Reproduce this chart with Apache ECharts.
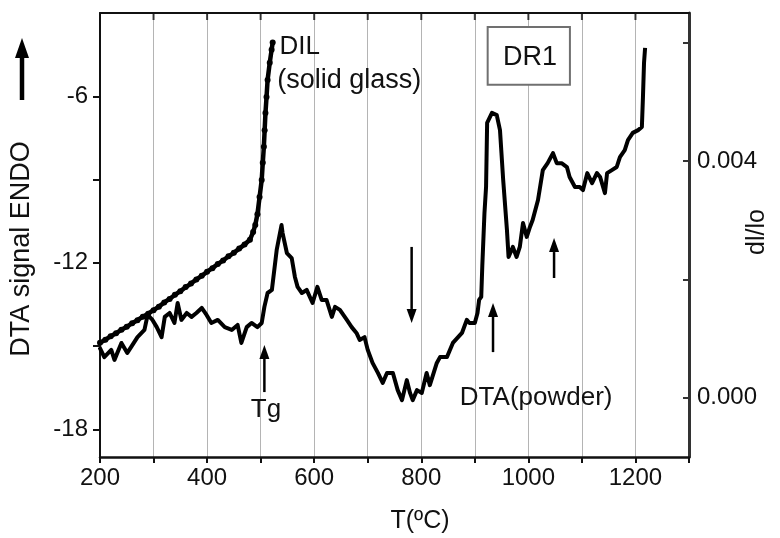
<!DOCTYPE html>
<html><head><meta charset="utf-8">
<script src="https://cdn.jsdelivr.net/npm/echarts@6/dist/echarts.min.js"></script>
<style>html,body{margin:0;padding:0;background:#fff}#c{width:780px;height:538px}</style>
</head><body><div id="c"></div>
<script>
// DTA signal (left axis), T in °C
const dtaT = [199,208,221,227,240,251,258,270,283,289,298,306,315,321,330,339,345,352,362,371,380,390,399,408,420,433,446,457,464,474,483,494,502,507,513,521,530,539,541,549,558,564,569,577,586,597,606,614,623,633,639,648,661,670,679,685,694,700,709,719,728,736,747,756,764,773,779,784,792,801,810,816,829,835,848,859,876,885,890,900,905,908,912,914,918,921,923,932,941,947,953,960,963,971,978,984,990,997,1003,1008,1018,1027,1036,1046,1053,1062,1072,1077,1087,1096,1102,1110,1119,1128,1134,1143,1147,1156,1165,1171,1180,1186,1195,1205,1212,1214,1216,1218];
const dtaV = [-15.04,-15.40,-15.14,-15.50,-14.89,-15.25,-15.04,-14.68,-14.42,-13.88,-14.06,-14.32,-14.68,-13.95,-13.81,-14.17,-13.45,-14.06,-13.81,-13.95,-13.81,-13.63,-13.88,-14.17,-14.06,-14.32,-14.42,-14.24,-14.89,-14.32,-14.17,-14.32,-14.17,-13.59,-13.09,-12.98,-11.54,-10.64,-10.93,-11.65,-11.83,-12.51,-12.87,-13.09,-12.98,-13.45,-12.87,-13.34,-13.34,-13.95,-13.59,-13.70,-14.06,-14.32,-14.53,-14.78,-14.68,-15.14,-15.61,-15.97,-16.33,-15.97,-15.97,-16.59,-16.95,-16.23,-16.69,-16.95,-16.59,-16.69,-15.97,-16.41,-15.61,-15.40,-15.40,-14.89,-14.53,-14.06,-14.17,-14.17,-13.81,-13.34,-13.23,-12.10,-10.21,-9.27,-6.96,-6.60,-6.68,-7.22,-9.02,-10.82,-11.79,-11.43,-11.79,-11.43,-10.57,-11.07,-10.71,-10.46,-9.74,-8.66,-8.41,-8.05,-8.41,-8.41,-8.55,-8.91,-9.27,-9.27,-9.38,-8.77,-9.13,-8.77,-8.91,-9.49,-8.77,-8.66,-8.55,-8.19,-7.94,-7.58,-7.32,-7.22,-7.11,-6.03,-4.80,-4.26];
// Dilatometry dl/lo (right axis)
const dilT = [200,210,220,230,240,250,260,270,280,290,300,310,320,330,340,350,360,370,380,390,400,410,420,430,440,450,460,470,480,486,490,494,498,502,504,506,507.5,509,511,513,517,520.5,522.5];
const dilV = [0.00093,0.00098,0.00104,0.00109,0.00115,0.00120,0.00126,0.00131,0.00137,0.00142,0.00148,0.00154,0.00161,0.00167,0.00174,0.00180,0.00187,0.00193,0.00200,0.00206,0.00213,0.00219,0.00226,0.00232,0.00239,0.00245,0.00252,0.00259,0.00267,0.00280,0.00292,0.00310,0.00339,0.00368,0.00397,0.00424,0.00452,0.00481,0.00508,0.00537,0.00566,0.00588,0.00600];
// tick labels / tick positions
const xTickLabels = [200,400,600,800,1000,1200];
const xTopTicks = [300,400,500,600,700,800,900,1000,1100,1200];
const yLeftLabels = [-18,-12,-6];
const yLeftTicks = [-18,-15,-12,-9,-6];
const yRightLabels = [0,0.004];
const yRightTicks = [0,0.002,0.004,0.006];
const yTop = -3;
// annotations (data coordinates on T / DTA axes)
const arrowsT = [507,782,934,1048];
const arrowsFrom = [-16.66,-11.43,-15.22,-12.55];
const arrowsTo = [-14.96,-14.17,-13.45,-11.11];

const FONT = 'Liberation Sans, Arial, sans-serif';
const TXT = '#111';
const chart = echarts.init(document.getElementById('c'), null, {renderer:'canvas'});
const zip = (a,b)=>a.map((v,i)=>[v,b[i]]);
chart.setOption({
  animation:false,
  backgroundColor:'#fff',
  grid:{left:100,right:91,top:13,bottom:81,containLabel:false},
  xAxis:[
    {type:'value',min:200,max:1300,interval:100,position:'bottom',
     axisLine:{show:true,onZero:false,lineStyle:{color:'#111',width:2.5}},
     axisTick:{show:true,inside:false,length:6,lineStyle:{color:'#111',width:2}},
     axisLabel:{fontFamily:FONT,fontSize:24,color:TXT,margin:9,
       formatter:v=>xTickLabels.indexOf(v)>=0?String(v):''},
     splitLine:{show:true,lineStyle:{color:'#b4b4b4',width:1}}},
    {type:'value',min:200,max:1300,interval:100,position:'top',
     axisLine:{show:true,onZero:false,lineStyle:{color:'#111',width:2}},
     axisTick:{show:false},axisLabel:{show:false},splitLine:{show:false}}
  ],
  yAxis:[
    {type:'value',min:-19,max:yTop,position:'left',
     axisLine:{show:true,onZero:false,lineStyle:{color:'#111',width:2}},
     axisTick:{show:true,inside:false,length:7,customValues:yLeftTicks,lineStyle:{color:'#111',width:2}},
     axisLabel:{fontFamily:FONT,fontSize:24,color:TXT,margin:12,customValues:yLeftLabels,formatter:v=>String(v)},
     splitLine:{show:false}},
    {type:'value',min:-0.001,max:0.0065,position:'right',
     axisLine:{show:true,onZero:false,lineStyle:{color:'#333',width:3}},
     axisTick:{show:true,inside:true,length:6,customValues:yRightTicks,lineStyle:{color:'#333',width:2}},
     axisLabel:{fontFamily:FONT,fontSize:24,color:TXT,margin:8,customValues:yRightLabels,formatter:v=>v.toFixed(3)},
     splitLine:{show:false}}
  ],
  series:[
    {type:'line',name:'DTA(powder)',xAxisIndex:0,yAxisIndex:0,data:zip(dtaT,dtaV),
     showSymbol:false,symbol:'none',lineStyle:{color:'#000',width:4,join:'round'},z:3},
    {type:'line',name:'DIL',xAxisIndex:0,yAxisIndex:1,data:zip(dilT,dilV),
     symbol:'circle',symbolSize:6,itemStyle:{color:'#000'},lineStyle:{color:'#000',width:4.5},z:4},
    {type:'scatter',name:'topTicks',xAxisIndex:0,yAxisIndex:0,data:xTopTicks.map(t=>[t,yTop]),
     symbol:'rect',symbolSize:[2,7],symbolOffset:[0,3.5],itemStyle:{color:'#111'},silent:true,clip:false,z:5}
  ]
});

function px(t,v){return chart.convertToPixel({xAxisIndex:0,yAxisIndex:0},[t,v]);}
function arrow(x,y1,y2,w,hl,hw){
  const dir = y2<y1?-1:1;
  const yb = y2 - dir*hl;
  return [
    {type:'line',shape:{x1:x,y1:y1,x2:x,y2:yb},style:{stroke:'#000',lineWidth:w},z:10},
    {type:'polygon',shape:{points:[[x-hw,yb],[x+hw,yb],[x,y2]]},style:{fill:'#000'},z:10}
  ];
}
const g = [];
for(let i=0;i<arrowsT.length;i++){
  const a=px(arrowsT[i],arrowsFrom[i]), b=px(arrowsT[i],arrowsTo[i]);
  g.push(...arrow(a[0],a[1],b[1],2.5,14,5));
}
g.push(...arrow(22,100,38,4.5,20,7));
function txt(s,t,v,size,align){
  const p=px(t,v);
  return {type:'text',x:p[0],y:p[1],style:{text:s,fontFamily:FONT,fontSize:size,fill:TXT,align:align||'left',verticalAlign:'middle'},z:11};
}
g.push(txt('DIL',535,-4.23,26));
g.push(txt('(solid glass)',531,-5.45,27));
g.push(txt('Tg',510,-17.31,26,'center'));
g.push(txt('DTA(powder)',872,-16.87,26));
const b1=px(924,-3.5), b2=px(1077.6,-5.59);
g.push({type:'rect',shape:{x:b1[0],y:b1[1],width:b2[0]-b1[0],height:b2[1]-b1[1]},style:{fill:'#fff',stroke:'#707070',lineWidth:2},z:9});
g.push(txt('DR1',1003,-4.59,27,'center'));
g.push({type:'text',x:22,y:249,rotation:Math.PI/2,style:{text:'DTA signal ENDO',fontFamily:FONT,fontSize:27,fill:TXT,align:'center',verticalAlign:'middle'},z:11});
g.push({type:'text',x:757,y:232,rotation:Math.PI/2,style:{text:'dl/lo',fontFamily:FONT,fontSize:25,fill:TXT,align:'center',verticalAlign:'middle'},z:11});
g.push({type:'text',x:420,y:521,style:{text:'T(ºC)',fontFamily:FONT,fontSize:25,fill:TXT,align:'center',verticalAlign:'middle'},z:11});
chart.setOption({graphic:g});
</script></body></html>
